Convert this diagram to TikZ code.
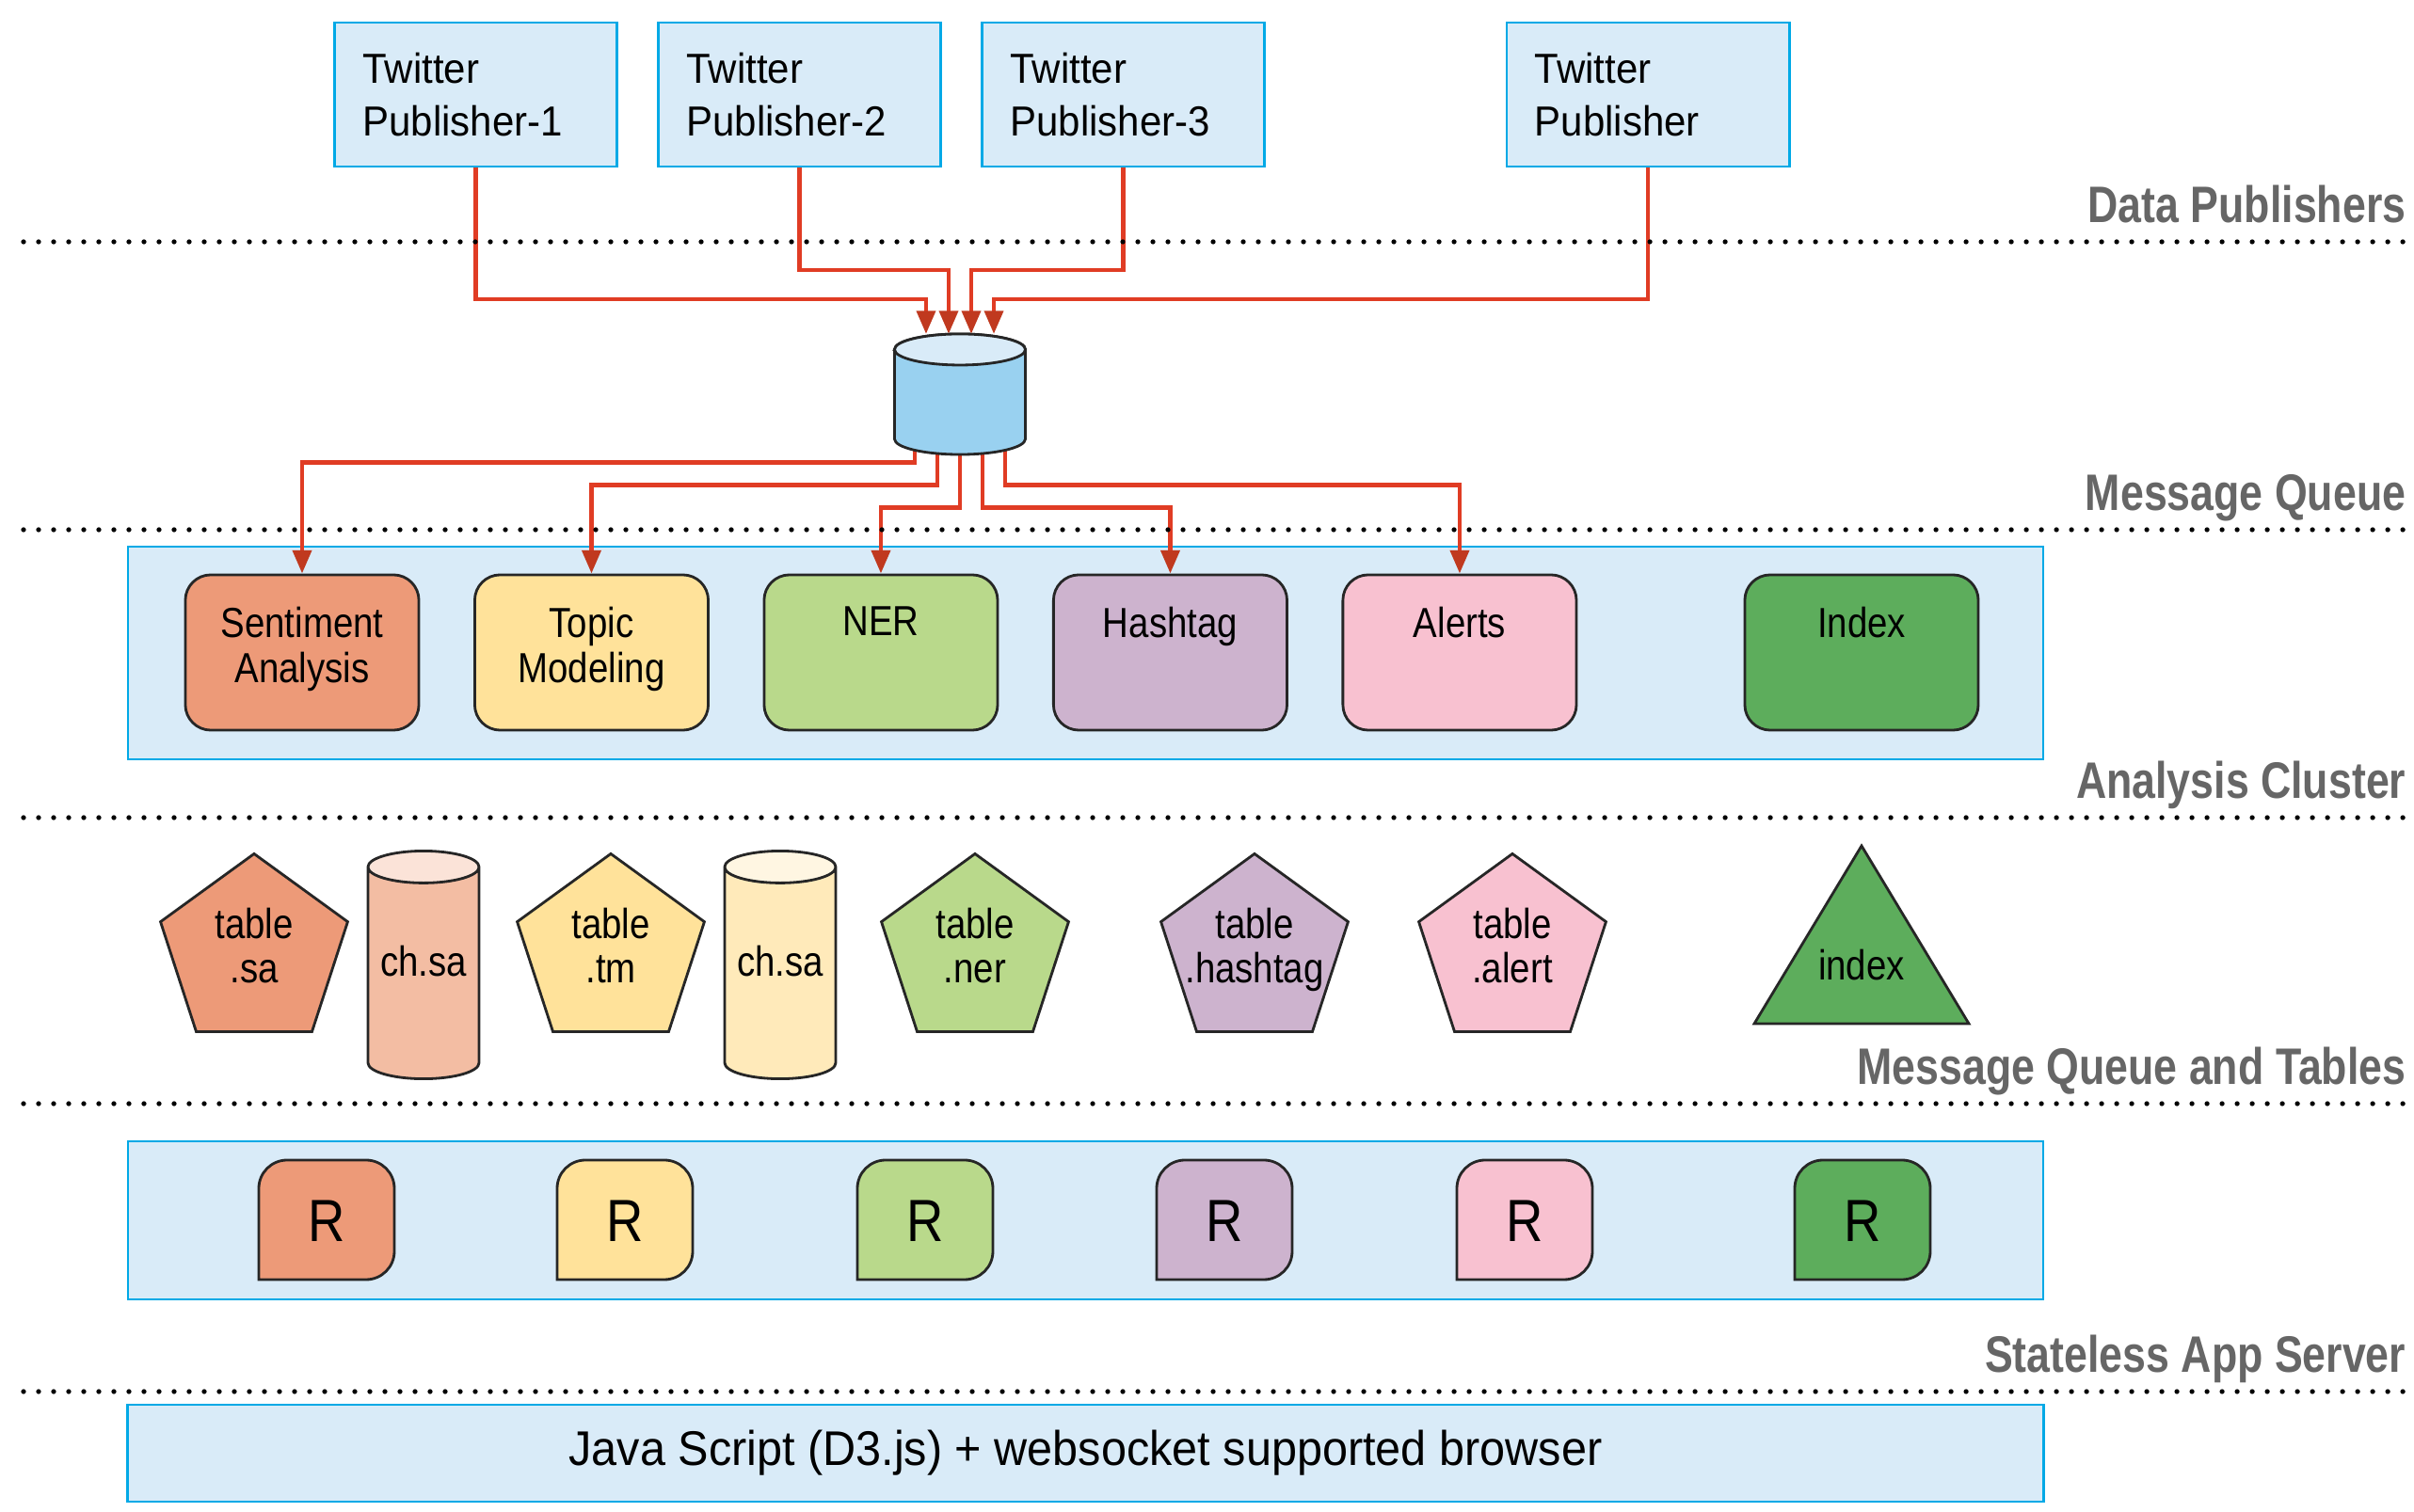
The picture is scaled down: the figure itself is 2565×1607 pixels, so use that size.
\documentclass[tikz,border=0pt]{standalone}
\usepackage{fontspec}
\setmainfont{Liberation Sans}[FakeStretch=0.86]
\newfontfamily\widefont{Liberation Sans}[FakeStretch=0.94]
\newfontfamily\layerfont{Liberation Sans}[FakeStretch=0.82]
\usetikzlibrary{arrows.meta, positioning, shapes.geometric}

\definecolor{PanelBlue}{HTML}{D9EBF8}
\definecolor{PanelEdge}{HTML}{00A9E6}
\definecolor{QueueBlue}{HTML}{99D1F0}
\definecolor{WireRed}{HTML}{E03C24}
\definecolor{TipRed}{HTML}{C0391F}
\definecolor{SaOrange}{HTML}{ED9A78}
\definecolor{TmYellow}{HTML}{FFE29A}
\definecolor{NerGreen}{HTML}{B9D98B}
\definecolor{HashPurple}{HTML}{CDB3CE}
\definecolor{AlertPink}{HTML}{F8C1D0}
\definecolor{IndexGreen}{HTML}{5DAD5C}
\definecolor{ChSaBody}{HTML}{F3BDA3}
\definecolor{ChSaTop}{HTML}{FBE3D8}
\definecolor{ChTmBody}{HTML}{FFEABA}
\definecolor{ChTmTop}{HTML}{FFF6E2}
\definecolor{LayerGrey}{HTML}{666666}

\pgfdeclarelayer{back}
\pgfsetlayers{back,main}

\tikzset{
  panel/.style={fill=PanelBlue, draw=PanelEdge, line width=0.8pt},
  publisher/.style={panel, minimum width=3cm, minimum height=1.53cm, text width=2.4cm, align=left, inner sep=0pt, font=\widefont\fontsize{12.7}{16}\selectfont},
  worker/.style={draw=black!85, line width=0.8pt, rounded corners=0.27cm, minimum width=2.48cm, minimum height=1.65cm, inner sep=0pt},
  tag/.style={anchor=north, yshift=-0.35cm, align=center, inner sep=0pt, font=\fontsize{12.7}{13.7}\selectfont},
  wire/.style={WireRed, line width=1.3pt, -{Triangle[length=7pt, width=5.6pt, color=TipRed]}},
  layer/.style={anchor=base east, inner sep=0pt, text=LayerGrey, font=\layerfont\bfseries\fontsize{15.5}{18}\selectfont},
  dots/.style={line width=1.5pt, line cap=round, dash pattern=on 0pt off 4.55pt},
  tablebox/.style={regular polygon, regular polygon sides=5, draw=black!85, line width=0.8pt, minimum size=2.09cm, inner sep=0pt},
  tabletext/.style={align=center, inner sep=0pt, text depth=0pt, yshift=0.07cm, font=\fontsize{12.7}{13.4}\selectfont},
  store/.style={cylinder, shape border rotate=90, draw=black!85, line width=0.8pt, cylinder uses custom fill, inner sep=0pt, text depth=0.26cm, anchor=south, minimum width=1.18cm, minimum height=2.42cm, aspect=0.37},
  rcase/.style={draw=black!85, line width=0.8pt},
}

\begin{document}
\begin{tikzpicture}[x=0.01cm, y=-0.01cm, font=\fontsize{12.7}{13.6}\selectfont]
  \useasboundingbox (0,0) rectangle (2565,1607);

  % publishers
  \node[publisher] (pub1) at (505.5,100.5) {Twitter\\Publisher-1};
  \node[publisher, right=0.41cm of pub1] (pub2) {Twitter\\Publisher-2};
  \node[publisher, right=0.41cm of pub2] (pub3) {Twitter\\Publisher-3};
  \node[publisher] (pub4) at (1751,100.5) {Twitter\\Publisher};

  % queue
  \node[minimum width=1.39cm, minimum height=1.28cm, inner sep=0pt, outer sep=0pt] (queue) at (1020,419) {};
  \draw[rcase, fill=QueueBlue] ([yshift=-0.165cm]queue.north west) -- ([yshift=0.165cm]queue.south west)
    arc[start angle=180, end angle=360, x radius=0.695cm, y radius=0.165cm]
    -- ([yshift=-0.165cm]queue.north east) arc[start angle=0, end angle=180, x radius=0.695cm, y radius=0.165cm] -- cycle;
  \draw[rcase, fill=PanelBlue] ([yshift=-0.165cm]queue.north) ellipse [x radius=0.695cm, y radius=0.165cm];

  % analysis cluster
  \node[worker, fill=SaOrange, label={[tag]north:Sentiment\\Analysis}] (sa) at (321,693.5) {};
  \node[worker, fill=TmYellow, label={[tag]north:Topic\\Modeling}, right=0.565cm of sa] (tm) {};
  \node[worker, fill=NerGreen, label={[tag]north:NER}, right=0.565cm of tm] (ner) {};
  \node[worker, fill=HashPurple, label={[tag]north:Hashtag}, right=0.565cm of ner] (hash) {};
  \node[worker, fill=AlertPink, label={[tag]north:Alerts}, right=0.565cm of hash] (alert) {};
  \node[worker, fill=IndexGreen, label={[tag]north:Index}] (index) at (1978,693.5) {};

  % tables and channels
  \foreach \x/\c/\ext [count=\i] in {270/SaOrange/.sa, 649/TmYellow/.tm, 1036/NerGreen/.ner, 1333/HashPurple/.hashtag, 1607/AlertPink/.alert}
    \node[tablebox, fill=\c, label={[tabletext]center:table\\\ext}] (tab\i) at (\x,1012) {};
  \node[store, cylinder body fill=ChSaBody, cylinder end fill=ChSaTop] (ch1) at (450,1148) {ch.sa};
  \node[store, cylinder body fill=ChTmBody, cylinder end fill=ChTmTop] (ch2) at (829,1148) {ch.sa};
  \draw[rcase, fill=IndexGreen] (1978,899) -- (2092,1088) -- (1864,1088) -- cycle;
  \node (idx) at (1978,1026) {index};

  % app servers
  \foreach \x/\c [count=\i] in {347/SaOrange, 664/TmYellow, 983/NerGreen, 1301/HashPurple, 1620/AlertPink, 1979/IndexGreen} {
    \draw[rcase, fill=\c] (\x-72,1360) [rounded corners=0.3cm] |- (\x,1233) -| (\x+72,1360) [sharp corners] -- cycle;
    \node[font=\fontsize{18}{20}\selectfont] (r\i) at (\x,1298) {R};
  }

  % browser
  \node[panel, minimum width=20.35cm, minimum height=1.03cm, font=\widefont\fontsize{14.7}{16}\selectfont] (browser) at (1153.5,1544.5) {Java Script (D3.js) + websocket supported browser};

  % tiers
  \foreach \y/\name [count=\i] in {257/Data Publishers, 563/Message Queue, 869/Analysis Cluster, 1173/Message Queue and Tables, 1479/Stateless App Server} {
    \draw[dots] (25,\y) -- (2560,\y);
    \node[layer] (tier\i) at (2557,\y-20) {\name};
  }

  \begin{pgfonlayer}{back}
    \draw[panel] (136,581) rectangle (2171,807);
    \draw[panel] (136,1213) rectangle (2171,1381);
    % publishers -> queue
    \draw[wire] (pub1.south) |- ([xshift=-0.36cm, yshift=0.37cm]queue.north) -- ([xshift=-0.36cm]queue.north);
    \draw[wire] (pub2.south) |- ([xshift=-0.12cm, yshift=0.68cm]queue.north) -- ([xshift=-0.12cm]queue.north);
    \draw[wire] (pub3.south) |- ([xshift=0.12cm, yshift=0.68cm]queue.north) -- ([xshift=0.12cm]queue.north);
    \draw[wire] (pub4.south) |- ([xshift=0.36cm, yshift=0.37cm]queue.north) -- ([xshift=0.36cm]queue.north);
    % queue -> analysis
    \draw[wire] ([xshift=-0.48cm, yshift=0.3cm]queue.south) |- ([yshift=1.18cm]sa.north) -- (sa.north);
    \draw[wire] ([xshift=-0.24cm, yshift=0.3cm]queue.south) |- ([yshift=0.94cm]tm.north) -- (tm.north);
    \draw[wire] ([yshift=0.3cm]queue.south) |- ([yshift=0.7cm]ner.north) -- (ner.north);
    \draw[wire] ([xshift=0.24cm, yshift=0.3cm]queue.south) |- ([yshift=0.7cm]hash.north) -- (hash.north);
    \draw[wire] ([xshift=0.48cm, yshift=0.3cm]queue.south) |- ([yshift=0.94cm]alert.north) -- (alert.north);
  \end{pgfonlayer}
\end{tikzpicture}
\end{document}
